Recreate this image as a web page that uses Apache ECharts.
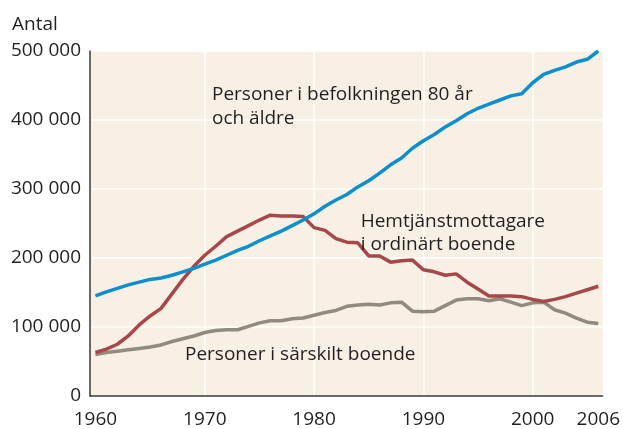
<!DOCTYPE html>
<html>
<head>
<meta charset="utf-8">
<script src="https://cdn.jsdelivr.net/npm/echarts@6/dist/echarts.min.js"></script>
<style>
  html, body { margin: 0; padding: 0; background: #fff; }
  #chart { width: 623px; height: 429px; }
</style>
</head>
<body>
<div id="chart"></div>
<script>
// years 1960..2006
const years = [
  1960, 1961, 1962, 1963, 1964, 1965, 1966, 1967, 1968, 1969,
  1970, 1971, 1972, 1973, 1974, 1975, 1976, 1977, 1978, 1979,
  1980, 1981, 1982, 1983, 1984, 1985, 1986, 1987, 1988, 1989,
  1990, 1991, 1992, 1993, 1994, 1995, 1996, 1997, 1998, 1999,
  2000, 2001, 2002, 2003, 2004, 2005, 2006
];

// Personer i befolkningen 80 år och äldre
const aged80 = [
  145000, 151000, 156000, 161000, 165000, 169000, 171000, 175000, 180000, 185000,
  191000, 197000, 204000, 211000, 217000, 225000, 232000, 239000, 247000, 255000,
  264000, 275000, 284000, 292000, 303000, 312000, 323000, 335000, 345000, 359000,
  370000, 379000, 390000, 399000, 409000, 417000, 423000, 429000, 435000, 438000,
  454000, 466000, 472000, 477000, 484000, 488000, 500000
];

// Hemtjänstmottagare i ordinärt boende
const homeCare = [
  63000, 68000, 75000, 87000, 103000, 116000, 127000, 148000, 169000, 188000,
  204000, 217000, 231000, 239000, 247000, 255000, 262000, 261000, 261000, 260000,
  244000, 240000, 228000, 223000, 222000, 203000, 203000, 194000, 196000, 197000,
  183000, 180000, 175000, 177000, 165000, 155000, 145000, 145000, 145000, 144000,
  140000, 137000, 140000, 144000, 149000, 154000, 159000
];

// Personer i särskilt boende
const specialHousing = [
  60000, 63000, 65000, 67000, 69000, 71000, 74000, 79000, 83000, 87000,
  92000, 95000, 96000, 96000, 101000, 106000, 109000, 109000, 112000, 113000,
  117000, 121000, 124000, 130000, 132000, 133000, 132000, 135000, 136000, 123000,
  122000, 123000, 131000, 139000, 141000, 141000, 138000, 141000, 136000, 131000,
  135000, 136000, 125000, 120000, 113000, 107000, 105000
];

const xLabels = [1960, 1970, 1980, 1990, 2000, 2006];
const xGrid = [1970, 1980, 1990, 2000];

const font = "'Open Sans', sans-serif";
const ink = "#231f20";

const pair = (vals) => years.map((y, i) => [y, vals[i]]);

const chart = echarts.init(document.getElementById("chart"));

chart.setOption({
  animation: false,
  title: {
    text: "Antal",
    left: 7,
    top: 10,
    textStyle: { fontFamily: font, fontSize: 19, fontWeight: "normal", color: ink }
  },
  grid: {
    left: 90,
    right: 18,
    top: 51,
    bottom: 31,
    show: true,
    backgroundColor: "#f8f0e4",
    borderWidth: 0
  },
  xAxis: {
    type: "value",
    min: 1959.5,
    max: 2006.4,
    axisLine: { show: true, lineStyle: { color: "#3a3a3a", width: 1.5 } },
    axisTick: { show: false, customValues: xGrid },
    splitLine: { show: true, lineStyle: { color: "#ffffff", width: 1.5 } },
    axisLabel: {
      customValues: xLabels,
      fontFamily: font,
      fontSize: 19,
      color: ink,
      margin: 14,
      formatter: (v) => String(v)
    }
  },
  yAxis: {
    type: "value",
    min: 0,
    max: 500000,
    interval: 100000,
    axisLine: { show: true, lineStyle: { color: "#3a3a3a", width: 1.5 } },
    axisTick: { show: false },
    splitLine: { show: true, lineStyle: { color: "#ffffff", width: 1.5 } },
    axisLabel: {
      fontFamily: font,
      fontSize: 19,
      color: ink,
      margin: 9,
      formatter: (v) => v === 0 ? "0" : String(v / 1000) + " 000"
    }
  },
  series: [
    {
      name: "Personer i särskilt boende",
      type: "line",
      data: pair(specialHousing),
      showSymbol: false,
      lineStyle: { color: "#918a7f", width: 3.5 },
      itemStyle: { color: "#918a7f" },
      z: 2
    },
    {
      name: "Hemtjänstmottagare i ordinärt boende",
      type: "line",
      data: pair(homeCare),
      showSymbol: false,
      lineStyle: { color: "#a8474a", width: 3.5 },
      itemStyle: { color: "#a8474a" },
      z: 3
    },
    {
      name: "Personer i befolkningen 80 år och äldre",
      type: "line",
      data: pair(aged80),
      showSymbol: false,
      lineStyle: { color: "#0c8fcf", width: 3.5 },
      itemStyle: { color: "#0c8fcf" },
      z: 4
    }
  ],
  graphic: [
    {
      type: "text",
      left: 212,
      top: 83,
      style: {
        text: "Personer i befolkningen 80 år\noch äldre",
        font: "19px 'Open Sans', sans-serif",
        fill: ink,
        lineHeight: 24
      },
      z: 10
    },
    {
      type: "text",
      right: 78,
      top: 210,
      style: {
        text: "Hemtjänstmottagare\ni ordinärt boende",
        font: "19px 'Open Sans', sans-serif",
        fill: ink,
        align: "right",
        lineHeight: 23
      },
      z: 10
    },
    {
      type: "text",
      left: 185,
      top: 345,
      style: {
        text: "Personer i särskilt boende",
        font: "19px 'Open Sans', sans-serif",
        fill: ink
      },
      z: 10
    }
  ]
});
</script>
</body>
</html>
